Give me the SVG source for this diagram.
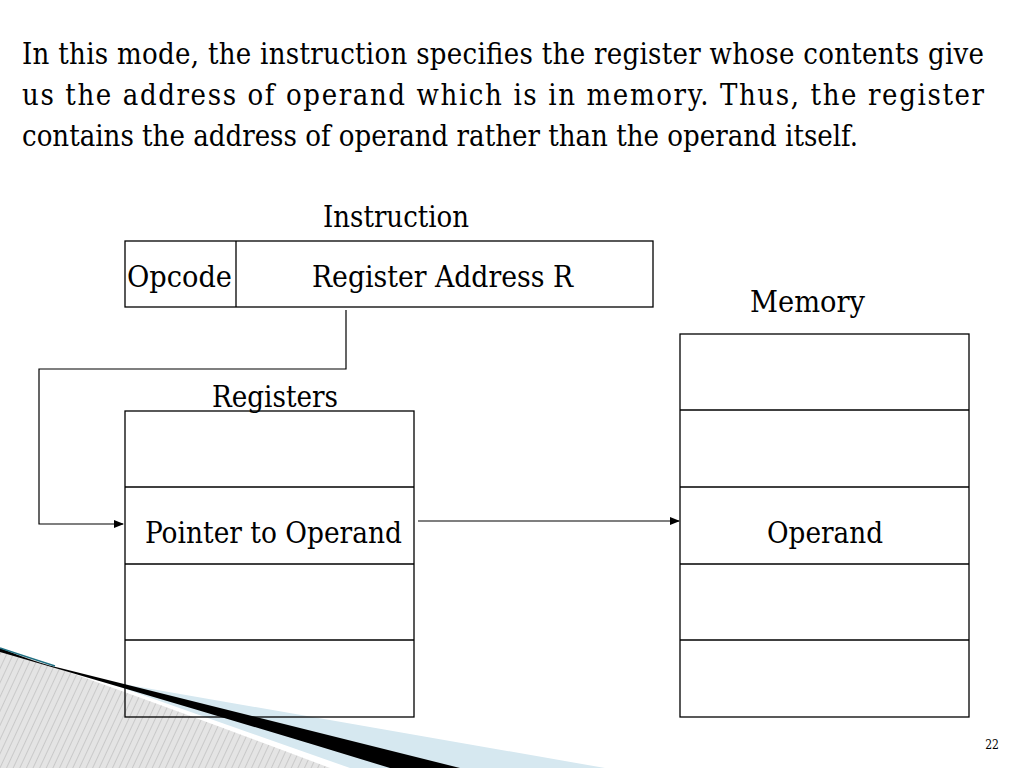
<svg xmlns="http://www.w3.org/2000/svg" width="1024" height="768" viewBox="0 0 1024 768">
<defs>
<pattern id="hatch" width="6" height="6" patternUnits="userSpaceOnUse" patternTransform="rotate(25)">
<rect width="6" height="6" fill="#e4e4e4"/><line x1="0" y1="0" x2="0" y2="6" stroke="#b8b8b8" stroke-width="1.2"/>
</pattern>
<marker id="arr" markerWidth="10" markerHeight="8" refX="9" refY="4" orient="auto" markerUnits="userSpaceOnUse"><path d="M0,0 L10,4 L0,8 z" fill="#000"/></marker>
</defs>
<style>
text{font-family:"DejaVu Serif","Liberation Serif",serif;font-stretch:condensed;fill:#000}
.p{font-size:29px}
.l{font-size:29px}
.b{fill:none;stroke:#000;stroke-width:1.3}
.c{fill:none;stroke:#000;stroke-width:1.2}
</style>
<rect width="1024" height="768" fill="#fff"/>
<g id="decoration">
<path d="M0,648 Q150,700 330,768 L0,768 z" fill="url(#hatch)"/>
<path d="M100,680 L605,768 L350,768 Z" fill="#d6e8f0"/>
<path d="M0,648 Q40,664 60,668 L460,768 L390,768 Q200,710 0,652 z" fill="#000"/>
<path d="M0,648 Q30,658 55,666" stroke="#1f6f82" stroke-width="1.5" fill="none"/>
</g>
<g id="paragraph">
<text class="p" x="22" y="64" textLength="962" lengthAdjust="spacing">In this mode, the instruction specifies the register whose contents give</text>
<text class="p" x="22" y="105" textLength="962" lengthAdjust="spacing">us the address of operand which is in memory. Thus, the register</text>
<text class="p" x="22" y="146" textLength="836" lengthAdjust="spacingAndGlyphs">contains the address of operand rather than the operand itself.</text>
</g>
<g id="instruction">
<text class="l" x="323" y="227" textLength="146" lengthAdjust="spacingAndGlyphs">Instruction</text>
<rect class="b" x="125" y="241" width="528" height="66"/>
<line class="b" x1="236" y1="241" x2="236" y2="307"/>
<text class="l" x="127" y="287" textLength="105" lengthAdjust="spacingAndGlyphs">Opcode</text>
<text class="l" x="312" y="287" textLength="261" lengthAdjust="spacingAndGlyphs">Register Address R</text>
</g>
<g id="registers">
<text class="l" x="212" y="407" textLength="126" lengthAdjust="spacingAndGlyphs">Registers</text>
<rect class="b" x="125" y="411" width="289" height="306"/>
<line class="b" x1="125" y1="487" x2="414" y2="487"/>
<line class="b" x1="125" y1="564" x2="414" y2="564"/>
<line class="b" x1="125" y1="640" x2="414" y2="640"/>
<text class="l" x="145" y="543" textLength="257" lengthAdjust="spacingAndGlyphs">Pointer to Operand</text>
</g>
<g id="memory">
<text class="l" x="750" y="312" textLength="115" lengthAdjust="spacingAndGlyphs">Memory</text>
<rect class="b" x="680" y="334" width="289" height="383"/>
<line class="b" x1="680" y1="410" x2="969" y2="410"/>
<line class="b" x1="680" y1="487" x2="969" y2="487"/>
<line class="b" x1="680" y1="564" x2="969" y2="564"/>
<line class="b" x1="680" y1="640" x2="969" y2="640"/>
<text class="l" x="767" y="543" textLength="116" lengthAdjust="spacingAndGlyphs">Operand</text>
</g>
<g id="connectors">
<path class="c" d="M346,310 L346,369 L39,369 L39,524 L123,524" marker-end="url(#arr)"/>
<path class="c" d="M418,521 L679,521" marker-end="url(#arr)"/>
</g>
<text x="992" y="749" font-size="12" text-anchor="middle">22</text>
</svg>
